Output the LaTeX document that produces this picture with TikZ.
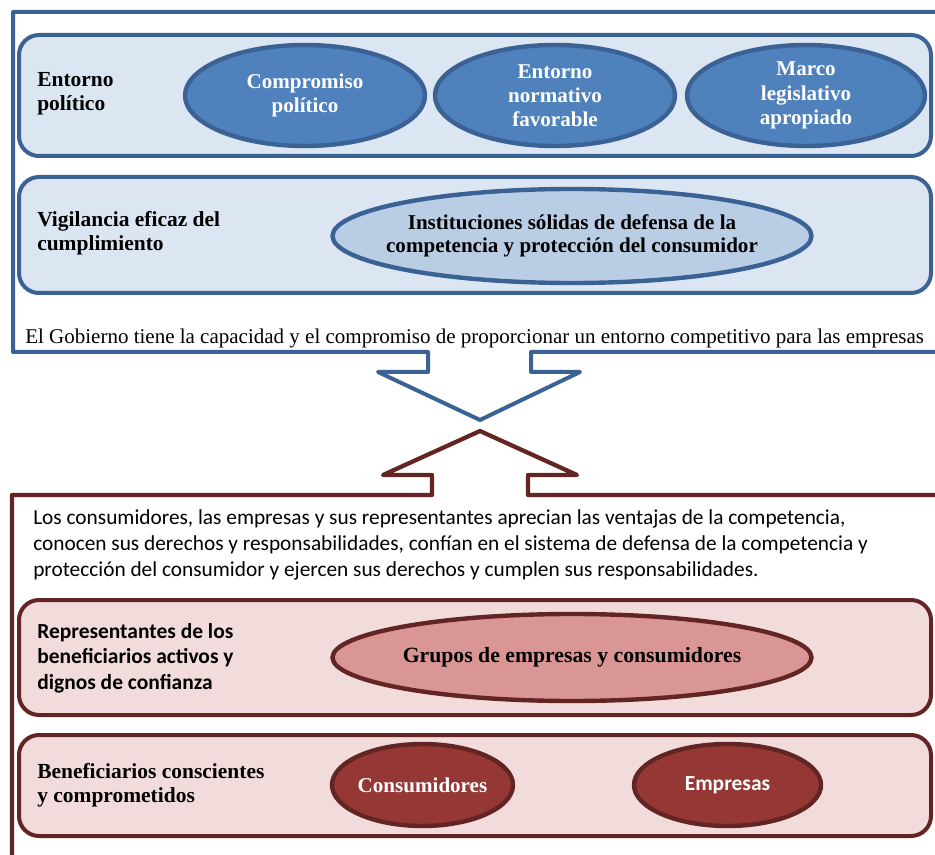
\documentclass[tikz,border=0pt]{standalone}
\usepackage{fontspec}
\setmainfont{Liberation Serif}
\newfontfamily\calibri{Carlito}
\usetikzlibrary{shapes.geometric}
\definecolor{bdark}{HTML}{3B6294}
\definecolor{bpanel}{HTML}{DCE6F2}
\definecolor{bell}{HTML}{4F81BD}
\definecolor{bell2}{HTML}{B9CDE5}
\definecolor{rdark}{HTML}{632523}
\definecolor{rpanel}{HTML}{F2DCDB}
\definecolor{rell}{HTML}{D99694}
\definecolor{rell2}{HTML}{953735}
\begin{document}
\begin{tikzpicture}[x=0.75pt,y=-0.75pt,
  panelb/.style={draw=bdark, fill=bpanel, line width=3pt, rounded corners=15pt, minimum width=684pt, inner sep=0pt},
  panelr/.style={draw=rdark, fill=rpanel, line width=3pt, rounded corners=15pt, minimum width=684pt, inner sep=0pt},
  ellbase/.style={ellipse, line width=3.3pt, inner sep=0pt},
  ellb/.style={ellbase, draw=bdark, fill=bell},
  ellb2/.style={ellbase, draw=bdark, fill=bell2},
  ellr/.style={ellbase, draw=rdark, fill=rell},
  ellr2/.style={ellbase, draw=rdark, fill=rell2},
  wtxt/.style={align=center, inner sep=0pt, text=white, font=\bfseries\fontsize{15.8}{18.2}\selectfont},
  ktxt/.style={align=center, inner sep=0pt, text=black, font=\bfseries\fontsize{15.8}{17.5}\selectfont},
  lbl/.style={anchor=west, align=left, inner sep=0pt, font=\bfseries\fontsize{16.1}{17.8}\selectfont},
  lblc/.style={anchor=west, align=left, inner sep=0pt, font=\calibri\bfseries\fontsize{16.1}{19.1}\selectfont},
  outerb/.style={draw=bdark, line width=3pt, line join=round},
  outerr/.style={draw=rdark, line width=3.2pt, line join=round}
]
\useasboundingbox (0,0) rectangle (935,855);

% outer blue callout
\coordinate (b0) at (935,12);
\coordinate (b1) at (13,12);
\coordinate (b2) at (13,352);
\coordinate (b3) at (428,352);
\coordinate (b4) at (428,372);
\coordinate (b5) at (378,372);
\coordinate (b6) at (480,420);
\coordinate (b7) at (580,372);
\coordinate (b8) at (531,372);
\coordinate (b9) at (531,352);
\coordinate (b10) at (935,352);
\draw[outerb] (b0) -- (b1) -- (b2) -- (b3) -- (b4) -- (b5) -- (b6) -- (b7) -- (b8) -- (b9) -- (b10);

% outer red callout
\coordinate (r0) at (935,495);
\coordinate (r1) at (528,495);
\coordinate (r2) at (528,475);
\coordinate (r3) at (577,475);
\coordinate (r4) at (480,431);
\coordinate (r5) at (383,475);
\coordinate (r6) at (432,475);
\coordinate (r7) at (432,495);
\coordinate (r8) at (12,495);
\coordinate (r9) at (12,857);
\draw[outerr] (r0) -- (r1) -- (r2) -- (r3) -- (r4) -- (r5) -- (r6) -- (r7) -- (r8) -- (r9);

% blue panels
\node[panelb, minimum height=90.75pt] (pb1) at (475,95.5) {};
\node[panelb, minimum height=87pt] (pb2) at (475,235) {};

\node[lbl] (lb1) at (37,94) {Entorno\\político};
\node[ellb, minimum width=180pt, minimum height=75.75pt,
  label={[wtxt]center:Compromiso\\político}] (e1) at (305,95.5) {};
\node[ellb, minimum width=180pt, minimum height=75.75pt,
  label={[wtxt]center:Entorno\\normativo\\favorable}] (e2) at (555,95.5) {};
\node[ellb, minimum width=178.5pt, minimum height=75.75pt,
  label={[wtxt]center:Marco\\legislativo\\apropiado}] (e3) at (806,95.5) {};

\node[lbl] (lb2) at (37,233.5) {Vigilancia eficaz del\\cumplimiento};
\node[ellb2, minimum width=359.25pt, minimum height=70.5pt,
  label={[ktxt]center:Instituciones sólidas de defensa de la\\competencia y protección del consumidor}] (e4) at (572,236) {};

\node[anchor=west, inner sep=0pt, font=\fontsize{15.75}{18}\selectfont] (gob) at (25,338) {El Gobierno tiene la capacidad y el compromiso de proporcionar un entorno competitivo para las empresas};

% red part
\node[anchor=west, align=left, inner sep=0pt, font=\calibri\fontsize{16}{19.6}\selectfont] (cons) at (33,545) {Los consumidores, las empresas y sus representantes aprecian las ventajas de la competencia,\\conocen sus derechos y responsabilidades, confían en el sistema de defensa de la competencia y\\protección del consumidor y ejercen sus derechos y cumplen sus responsabilidades.};

\node[panelr, minimum height=86.25pt] (pr1) at (475,657.5) {};
\node[panelr, minimum height=75.75pt] (pr2) at (475,785.5) {};

\node[lblc] (lr1) at (37,658) {Representantes de los\\beneficiarios activos y\\dignos de confianza};
\node[ellr, minimum width=359.25pt, minimum height=65.25pt,
  label={[ktxt, font=\bfseries\fontsize{16.3}{18}\selectfont]center:Grupos de empresas y consumidores}] (e5) at (572,657.5) {};

\node[lbl] (lr2) at (37,785.5) {Beneficiarios conscientes\\y comprometidos};
\node[ellr2, minimum width=135.75pt, minimum height=61.5pt,
  label={[wtxt]center:Consumidores}] (e6) at (422.5,785) {};
\node[ellr2, minimum width=140.25pt, minimum height=61.5pt,
  label={[wtxt, font=\calibri\bfseries\fontsize{16.1}{18}\selectfont]center:Empresas}] (e7) at (727.5,785) {};
\end{tikzpicture}
\end{document}
